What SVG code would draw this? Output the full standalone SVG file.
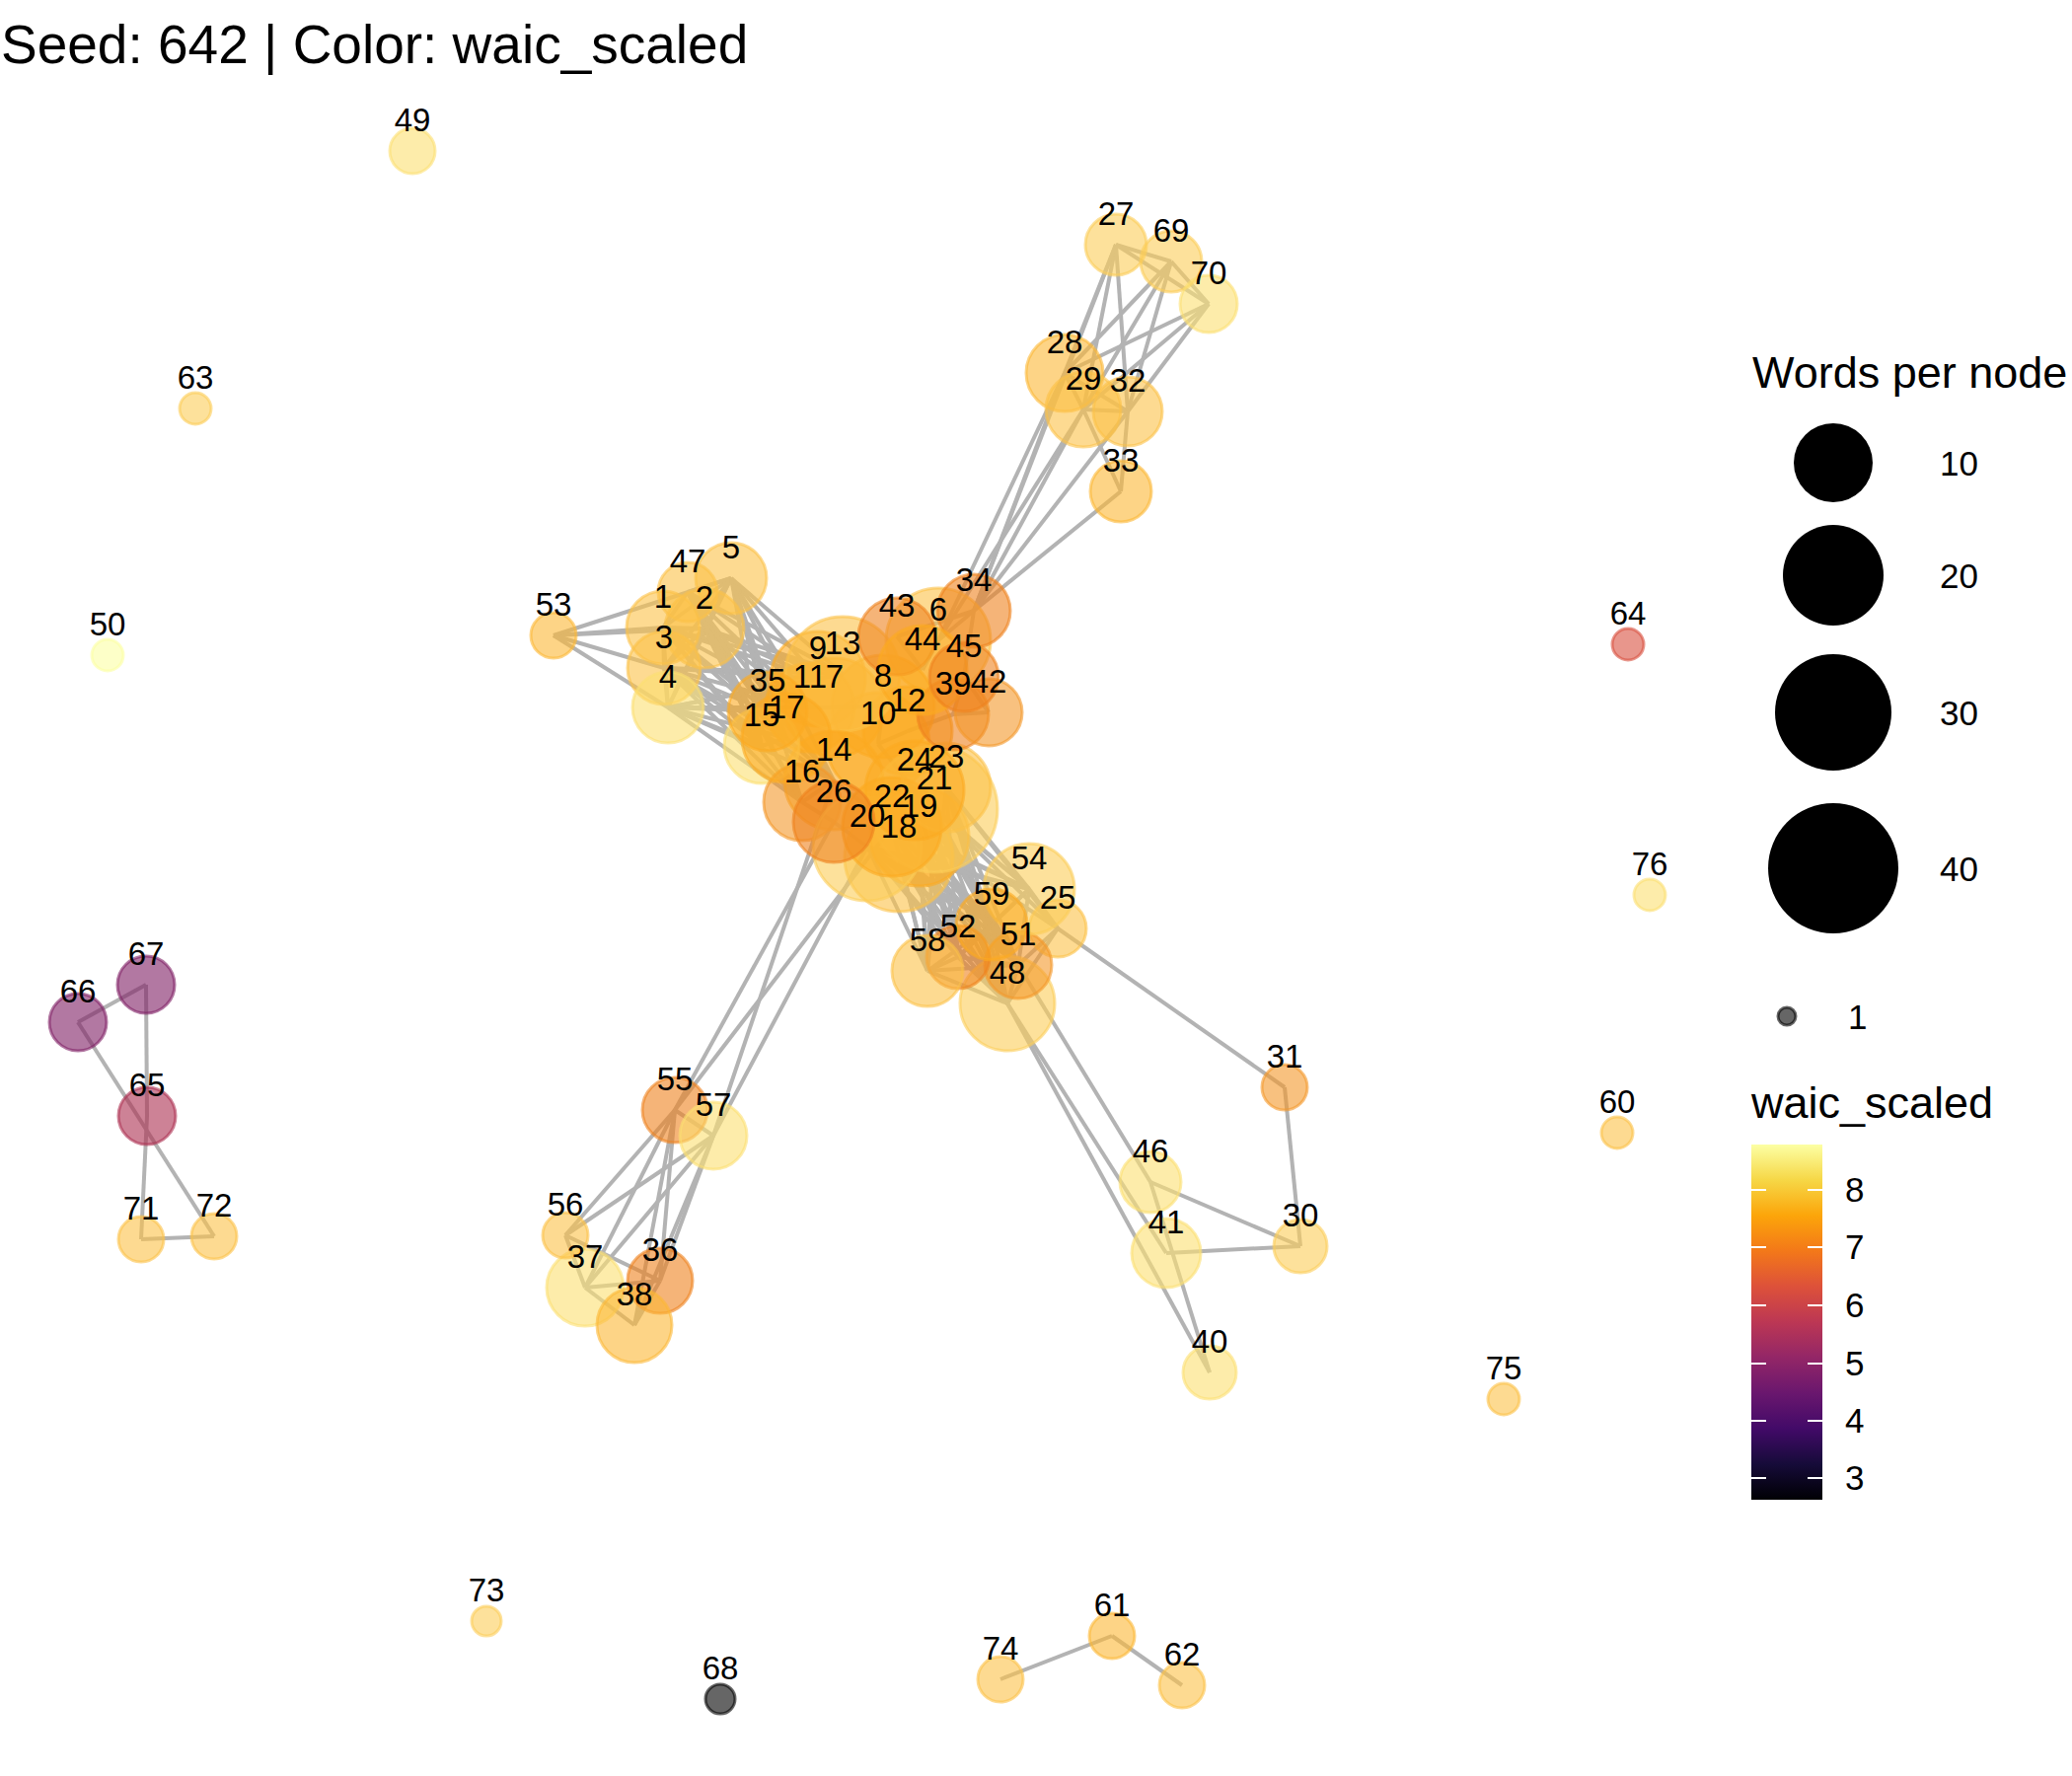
<svg xmlns="http://www.w3.org/2000/svg" width="2100" height="1800" viewBox="0 0 2100 1800">
<style>
.e{stroke:#B3B3B3;stroke-width:4;fill:none}
.node circle{fill-opacity:.6;stroke-opacity:.6;stroke-width:3}
.lb{font-family:"Liberation Sans",Arial,sans-serif;font-size:33px;text-anchor:middle;fill:#000}
.lg{font-family:"Liberation Sans",Arial,sans-serif;fill:#000}
.PY{fill:#FCDF71;stroke:#FCDF71}
.VP{fill:#FCFFA4;stroke:#FCFFA4}
.LO{fill:#FCC148;stroke:#FCC148}
.LL{fill:#FCCD58;stroke:#FCCD58}
.OR{fill:#FBAA22;stroke:#FBAA22}
.OL{fill:#FBB735;stroke:#FBB735}
.DO{fill:#EE821E;stroke:#EE821E}
.DL{fill:#F3982A;stroke:#F3982A}
.RD{fill:#D9503F;stroke:#D9503F}
.MG{fill:#AC2F50;stroke:#AC2F50}
.PU{fill:#7F1E64;stroke:#7F1E64}
.BK{fill:#000000;stroke:#000000}
</style>
<defs>
<linearGradient id="inferno" x1="0" y1="0" x2="0" y2="1">
<stop offset="0" stop-color="#FCFFA4"/>
<stop offset="0.1" stop-color="#F6D746"/>
<stop offset="0.2" stop-color="#FCA50A"/>
<stop offset="0.3" stop-color="#F37819"/>
<stop offset="0.4" stop-color="#DD513A"/>
<stop offset="0.5" stop-color="#BC3754"/>
<stop offset="0.6" stop-color="#932667"/>
<stop offset="0.7" stop-color="#6A176E"/>
<stop offset="0.8" stop-color="#420A68"/>
<stop offset="0.9" stop-color="#160B39"/>
<stop offset="1" stop-color="#000004"/>
</linearGradient>
</defs>
<rect width="2100" height="1800" fill="#FFFFFF"/>
<text class="lg" x="1" y="64" font-size="55">Seed: 642 | Color: waic_scaled</text>

<g id="edges">
<line class="e" x1="1131" y1="248" x2="1187" y2="265"/>
<line class="e" x1="1131" y1="248" x2="1225" y2="308"/>
<line class="e" x1="1187" y1="265" x2="1225" y2="308"/>
<line class="e" x1="1131" y1="248" x2="1079" y2="378"/>
<line class="e" x1="1131" y1="248" x2="1098" y2="415"/>
<line class="e" x1="1131" y1="248" x2="1143" y2="417"/>
<line class="e" x1="1187" y1="265" x2="1079" y2="378"/>
<line class="e" x1="1187" y1="265" x2="1098" y2="415"/>
<line class="e" x1="1187" y1="265" x2="1143" y2="417"/>
<line class="e" x1="1225" y1="308" x2="1079" y2="378"/>
<line class="e" x1="1225" y1="308" x2="1098" y2="415"/>
<line class="e" x1="1225" y1="308" x2="1143" y2="417"/>
<line class="e" x1="1079" y1="378" x2="1098" y2="415"/>
<line class="e" x1="1079" y1="378" x2="1143" y2="417"/>
<line class="e" x1="1098" y1="415" x2="1143" y2="417"/>
<line class="e" x1="1098" y1="415" x2="1136" y2="498"/>
<line class="e" x1="1143" y1="417" x2="1136" y2="498"/>
<line class="e" x1="987" y1="619" x2="1079" y2="378"/>
<line class="e" x1="987" y1="619" x2="1098" y2="415"/>
<line class="e" x1="987" y1="619" x2="1143" y2="417"/>
<line class="e" x1="987" y1="619" x2="1136" y2="498"/>
<line class="e" x1="987" y1="619" x2="1131" y2="248"/>
<line class="e" x1="951" y1="649" x2="1079" y2="378"/>
<line class="e" x1="951" y1="649" x2="1098" y2="415"/>
<line class="e" x1="672" y1="636" x2="714" y2="637"/>
<line class="e" x1="672" y1="636" x2="673" y2="677"/>
<line class="e" x1="714" y1="637" x2="673" y2="677"/>
<line class="e" x1="673" y1="677" x2="677" y2="717"/>
<line class="e" x1="672" y1="636" x2="677" y2="717"/>
<line class="e" x1="714" y1="637" x2="741" y2="586"/>
<line class="e" x1="697" y1="600" x2="741" y2="586"/>
<line class="e" x1="672" y1="636" x2="697" y2="600"/>
<line class="e" x1="714" y1="637" x2="697" y2="600"/>
<line class="e" x1="673" y1="677" x2="741" y2="586"/>
<line class="e" x1="677" y1="717" x2="741" y2="586"/>
<line class="e" x1="714" y1="637" x2="677" y2="717"/>
<line class="e" x1="672" y1="636" x2="741" y2="586"/>
<line class="e" x1="561" y1="644" x2="672" y2="636"/>
<line class="e" x1="561" y1="644" x2="714" y2="637"/>
<line class="e" x1="561" y1="644" x2="673" y2="677"/>
<line class="e" x1="561" y1="644" x2="677" y2="717"/>
<line class="e" x1="561" y1="644" x2="741" y2="586"/>
<line class="e" x1="672" y1="636" x2="829" y2="688"/>
<line class="e" x1="672" y1="636" x2="821" y2="717"/>
<line class="e" x1="672" y1="636" x2="778" y2="721"/>
<line class="e" x1="672" y1="636" x2="772" y2="756"/>
<line class="e" x1="672" y1="636" x2="797" y2="748"/>
<line class="e" x1="672" y1="636" x2="845" y2="791"/>
<line class="e" x1="672" y1="636" x2="813" y2="813"/>
<line class="e" x1="672" y1="636" x2="854" y2="683"/>
<line class="e" x1="714" y1="637" x2="829" y2="688"/>
<line class="e" x1="714" y1="637" x2="821" y2="717"/>
<line class="e" x1="714" y1="637" x2="778" y2="721"/>
<line class="e" x1="714" y1="637" x2="772" y2="756"/>
<line class="e" x1="714" y1="637" x2="797" y2="748"/>
<line class="e" x1="714" y1="637" x2="845" y2="791"/>
<line class="e" x1="714" y1="637" x2="813" y2="813"/>
<line class="e" x1="714" y1="637" x2="854" y2="683"/>
<line class="e" x1="673" y1="677" x2="829" y2="688"/>
<line class="e" x1="673" y1="677" x2="821" y2="717"/>
<line class="e" x1="673" y1="677" x2="778" y2="721"/>
<line class="e" x1="673" y1="677" x2="772" y2="756"/>
<line class="e" x1="673" y1="677" x2="797" y2="748"/>
<line class="e" x1="673" y1="677" x2="845" y2="791"/>
<line class="e" x1="673" y1="677" x2="813" y2="813"/>
<line class="e" x1="673" y1="677" x2="854" y2="683"/>
<line class="e" x1="677" y1="717" x2="829" y2="688"/>
<line class="e" x1="677" y1="717" x2="821" y2="717"/>
<line class="e" x1="677" y1="717" x2="778" y2="721"/>
<line class="e" x1="677" y1="717" x2="772" y2="756"/>
<line class="e" x1="677" y1="717" x2="797" y2="748"/>
<line class="e" x1="677" y1="717" x2="845" y2="791"/>
<line class="e" x1="677" y1="717" x2="813" y2="813"/>
<line class="e" x1="677" y1="717" x2="854" y2="683"/>
<line class="e" x1="741" y1="586" x2="829" y2="688"/>
<line class="e" x1="741" y1="586" x2="821" y2="717"/>
<line class="e" x1="741" y1="586" x2="778" y2="721"/>
<line class="e" x1="741" y1="586" x2="772" y2="756"/>
<line class="e" x1="741" y1="586" x2="797" y2="748"/>
<line class="e" x1="741" y1="586" x2="845" y2="791"/>
<line class="e" x1="741" y1="586" x2="813" y2="813"/>
<line class="e" x1="741" y1="586" x2="854" y2="683"/>
<line class="e" x1="697" y1="600" x2="829" y2="688"/>
<line class="e" x1="697" y1="600" x2="821" y2="717"/>
<line class="e" x1="697" y1="600" x2="778" y2="721"/>
<line class="e" x1="697" y1="600" x2="772" y2="756"/>
<line class="e" x1="697" y1="600" x2="797" y2="748"/>
<line class="e" x1="697" y1="600" x2="845" y2="791"/>
<line class="e" x1="697" y1="600" x2="813" y2="813"/>
<line class="e" x1="697" y1="600" x2="854" y2="683"/>
<line class="e" x1="829" y1="688" x2="854" y2="683"/>
<line class="e" x1="821" y1="717" x2="846" y2="717"/>
<line class="e" x1="778" y1="721" x2="797" y2="748"/>
<line class="e" x1="772" y1="756" x2="797" y2="748"/>
<line class="e" x1="845" y1="791" x2="813" y2="813"/>
<line class="e" x1="813" y1="813" x2="845" y2="833"/>
<line class="e" x1="846" y1="717" x2="895" y2="716"/>
<line class="e" x1="895" y1="716" x2="890" y2="754"/>
<line class="e" x1="890" y1="754" x2="920" y2="741"/>
<line class="e" x1="845" y1="833" x2="879" y2="858"/>
<line class="e" x1="879" y1="858" x2="911" y2="869"/>
<line class="e" x1="904" y1="838" x2="932" y2="848"/>
<line class="e" x1="947" y1="820" x2="927" y2="801"/>
<line class="e" x1="959" y1="798" x2="927" y2="801"/>
<line class="e" x1="909" y1="645" x2="935" y2="679"/>
<line class="e" x1="951" y1="649" x2="935" y2="679"/>
<line class="e" x1="951" y1="649" x2="987" y2="619"/>
<line class="e" x1="909" y1="645" x2="987" y2="619"/>
<line class="e" x1="977" y1="686" x2="966" y2="724"/>
<line class="e" x1="966" y1="724" x2="1002" y2="722"/>
<line class="e" x1="977" y1="686" x2="1002" y2="722"/>
<line class="e" x1="987" y1="619" x2="977" y2="686"/>
<line class="e" x1="920" y1="741" x2="966" y2="724"/>
<line class="e" x1="890" y1="754" x2="927" y2="801"/>
<line class="e" x1="845" y1="791" x2="904" y2="838"/>
<line class="e" x1="911" y1="869" x2="1043" y2="901"/>
<line class="e" x1="911" y1="869" x2="1005" y2="937"/>
<line class="e" x1="911" y1="869" x2="971" y2="970"/>
<line class="e" x1="911" y1="869" x2="940" y2="984"/>
<line class="e" x1="911" y1="869" x2="1032" y2="978"/>
<line class="e" x1="911" y1="869" x2="1021" y2="1017"/>
<line class="e" x1="932" y1="848" x2="1043" y2="901"/>
<line class="e" x1="932" y1="848" x2="1005" y2="937"/>
<line class="e" x1="932" y1="848" x2="971" y2="970"/>
<line class="e" x1="932" y1="848" x2="940" y2="984"/>
<line class="e" x1="932" y1="848" x2="1032" y2="978"/>
<line class="e" x1="932" y1="848" x2="1021" y2="1017"/>
<line class="e" x1="947" y1="820" x2="1043" y2="901"/>
<line class="e" x1="947" y1="820" x2="1005" y2="937"/>
<line class="e" x1="947" y1="820" x2="971" y2="970"/>
<line class="e" x1="947" y1="820" x2="940" y2="984"/>
<line class="e" x1="947" y1="820" x2="1032" y2="978"/>
<line class="e" x1="947" y1="820" x2="1021" y2="1017"/>
<line class="e" x1="904" y1="838" x2="1043" y2="901"/>
<line class="e" x1="904" y1="838" x2="1005" y2="937"/>
<line class="e" x1="904" y1="838" x2="971" y2="970"/>
<line class="e" x1="904" y1="838" x2="940" y2="984"/>
<line class="e" x1="904" y1="838" x2="1032" y2="978"/>
<line class="e" x1="904" y1="838" x2="1021" y2="1017"/>
<line class="e" x1="959" y1="798" x2="1043" y2="901"/>
<line class="e" x1="959" y1="798" x2="1005" y2="937"/>
<line class="e" x1="959" y1="798" x2="971" y2="970"/>
<line class="e" x1="959" y1="798" x2="940" y2="984"/>
<line class="e" x1="959" y1="798" x2="1032" y2="978"/>
<line class="e" x1="959" y1="798" x2="1021" y2="1017"/>
<line class="e" x1="927" y1="801" x2="1043" y2="901"/>
<line class="e" x1="927" y1="801" x2="1005" y2="937"/>
<line class="e" x1="927" y1="801" x2="971" y2="970"/>
<line class="e" x1="927" y1="801" x2="940" y2="984"/>
<line class="e" x1="927" y1="801" x2="1032" y2="978"/>
<line class="e" x1="927" y1="801" x2="1021" y2="1017"/>
<line class="e" x1="879" y1="858" x2="1043" y2="901"/>
<line class="e" x1="879" y1="858" x2="1005" y2="937"/>
<line class="e" x1="879" y1="858" x2="971" y2="970"/>
<line class="e" x1="879" y1="858" x2="940" y2="984"/>
<line class="e" x1="879" y1="858" x2="1032" y2="978"/>
<line class="e" x1="879" y1="858" x2="1021" y2="1017"/>
<line class="e" x1="947" y1="820" x2="1072" y2="941"/>
<line class="e" x1="959" y1="798" x2="1072" y2="941"/>
<line class="e" x1="932" y1="848" x2="1072" y2="941"/>
<line class="e" x1="1043" y1="901" x2="1005" y2="937"/>
<line class="e" x1="1043" y1="901" x2="1072" y2="941"/>
<line class="e" x1="1005" y1="937" x2="971" y2="970"/>
<line class="e" x1="971" y1="970" x2="940" y2="984"/>
<line class="e" x1="1032" y1="978" x2="1021" y2="1017"/>
<line class="e" x1="971" y1="970" x2="1032" y2="978"/>
<line class="e" x1="1005" y1="937" x2="1032" y2="978"/>
<line class="e" x1="1072" y1="941" x2="1032" y2="978"/>
<line class="e" x1="940" y1="984" x2="1021" y2="1017"/>
<line class="e" x1="971" y1="970" x2="1021" y2="1017"/>
<line class="e" x1="1043" y1="901" x2="1032" y2="978"/>
<line class="e" x1="1072" y1="941" x2="1021" y2="1017"/>
<line class="e" x1="1005" y1="937" x2="1021" y2="1017"/>
<line class="e" x1="940" y1="984" x2="1032" y2="978"/>
<line class="e" x1="1005" y1="937" x2="940" y2="984"/>
<line class="e" x1="1043" y1="901" x2="971" y2="970"/>
<line class="e" x1="1072" y1="941" x2="1302" y2="1102"/>
<line class="e" x1="1302" y1="1102" x2="1318" y2="1263"/>
<line class="e" x1="1166" y1="1198" x2="1318" y2="1263"/>
<line class="e" x1="1182" y1="1270" x2="1318" y2="1263"/>
<line class="e" x1="1032" y1="978" x2="1166" y2="1198"/>
<line class="e" x1="1021" y1="1017" x2="1182" y2="1270"/>
<line class="e" x1="1021" y1="1017" x2="1226" y2="1391"/>
<line class="e" x1="1166" y1="1198" x2="1226" y2="1391"/>
<line class="e" x1="684" y1="1125" x2="573" y2="1252"/>
<line class="e" x1="723" y1="1151" x2="573" y2="1252"/>
<line class="e" x1="684" y1="1125" x2="593" y2="1305"/>
<line class="e" x1="723" y1="1151" x2="593" y2="1305"/>
<line class="e" x1="684" y1="1125" x2="669" y2="1298"/>
<line class="e" x1="684" y1="1125" x2="643" y2="1343"/>
<line class="e" x1="723" y1="1151" x2="669" y2="1298"/>
<line class="e" x1="723" y1="1151" x2="643" y2="1343"/>
<line class="e" x1="573" y1="1252" x2="593" y2="1305"/>
<line class="e" x1="573" y1="1252" x2="669" y2="1298"/>
<line class="e" x1="593" y1="1305" x2="643" y2="1343"/>
<line class="e" x1="593" y1="1305" x2="669" y2="1298"/>
<line class="e" x1="669" y1="1298" x2="643" y2="1343"/>
<line class="e" x1="684" y1="1125" x2="723" y2="1151"/>
<line class="e" x1="845" y1="833" x2="684" y2="1125"/>
<line class="e" x1="904" y1="838" x2="684" y2="1125"/>
<line class="e" x1="845" y1="791" x2="723" y2="1151"/>
<line class="e" x1="879" y1="858" x2="723" y2="1151"/>
<line class="e" x1="79" y1="1036" x2="148" y2="998"/>
<line class="e" x1="148" y1="998" x2="149" y2="1131"/>
<line class="e" x1="149" y1="1131" x2="143" y2="1256"/>
<line class="e" x1="79" y1="1036" x2="217" y2="1253"/>
<line class="e" x1="143" y1="1256" x2="217" y2="1253"/>
<line class="e" x1="1014" y1="1702" x2="1127" y2="1658"/>
<line class="e" x1="1127" y1="1658" x2="1198" y2="1708"/>
</g>

<g id="nodes">
<g id="node-1" class="node"><circle class="LO" cx="672" cy="636" r="37"/></g>
<g id="node-2" class="node"><circle class="LO" cx="714" cy="637" r="40"/></g>
<g id="node-3" class="node"><circle class="LO" cx="673" cy="677" r="37"/></g>
<g id="node-4" class="node"><circle class="PY" cx="677" cy="717" r="36"/></g>
<g id="node-5" class="node"><circle class="LO" cx="741" cy="586" r="36"/></g>
<g id="node-6" class="node"><circle class="LO" cx="951" cy="649" r="53"/></g>
<g id="node-7" class="node"><circle class="OR" cx="846" cy="717" r="50"/></g>
<g id="node-8" class="node"><circle class="OR" cx="895" cy="716" r="52"/></g>
<g id="node-9" class="node"><circle class="OR" cx="829" cy="688" r="48"/></g>
<g id="node-10" class="node"><circle class="OR" cx="890" cy="754" r="52"/></g>
<g id="node-11" class="node"><circle class="OR" cx="821" cy="717" r="45"/></g>
<g id="node-12" class="node"><circle class="OR" cx="920" cy="741" r="45"/></g>
<g id="node-13" class="node"><circle class="LO" cx="854" cy="683" r="58"/></g>
<g id="node-14" class="node"><circle class="OR" cx="845" cy="791" r="50"/></g>
<g id="node-15" class="node"><circle class="PY" cx="772" cy="756" r="38"/></g>
<g id="node-16" class="node"><circle class="DL" cx="813" cy="813" r="39"/></g>
<g id="node-17" class="node"><circle class="OR" cx="797" cy="748" r="45"/></g>
<g id="node-18" class="node"><circle class="LO" cx="911" cy="869" r="55"/></g>
<g id="node-19" class="node"><circle class="OR" cx="932" cy="848" r="50"/></g>
<g id="node-20" class="node"><circle class="LL" cx="879" cy="858" r="55"/></g>
<g id="node-21" class="node"><circle class="LL" cx="947" cy="820" r="64"/></g>
<g id="node-22" class="node"><circle class="OR" cx="904" cy="838" r="50"/></g>
<g id="node-23" class="node"><circle class="LO" cx="959" cy="798" r="45"/></g>
<g id="node-24" class="node"><circle class="OR" cx="927" cy="801" r="50"/></g>
<g id="node-25" class="node"><circle class="LO" cx="1072" cy="941" r="29"/></g>
<g id="node-26" class="node"><circle class="DO" cx="845" cy="833" r="41"/></g>
<g id="node-27" class="node"><circle class="LL" cx="1131" cy="248" r="31"/></g>
<g id="node-28" class="node"><circle class="OL" cx="1079" cy="378" r="39"/></g>
<g id="node-29" class="node"><circle class="LO" cx="1098" cy="415" r="38"/></g>
<g id="node-30" class="node"><circle class="LL" cx="1318" cy="1263" r="27"/></g>
<g id="node-31" class="node"><circle class="DL" cx="1302" cy="1102" r="23"/></g>
<g id="node-32" class="node"><circle class="LO" cx="1143" cy="417" r="35"/></g>
<g id="node-33" class="node"><circle class="OL" cx="1136" cy="498" r="31"/></g>
<g id="node-34" class="node"><circle class="DO" cx="987" cy="619" r="37"/></g>
<g id="node-35" class="node"><circle class="OR" cx="778" cy="721" r="40"/></g>
<g id="node-36" class="node"><circle class="DO" cx="669" cy="1298" r="33"/></g>
<g id="node-37" class="node"><circle class="PY" cx="593" cy="1305" r="39"/></g>
<g id="node-38" class="node"><circle class="OL" cx="643" cy="1343" r="38"/></g>
<g id="node-39" class="node"><circle class="DO" cx="966" cy="724" r="36"/></g>
<g id="node-40" class="node"><circle class="PY" cx="1226" cy="1391" r="27"/></g>
<g id="node-41" class="node"><circle class="PY" cx="1182" cy="1270" r="35"/></g>
<g id="node-42" class="node"><circle class="DL" cx="1002" cy="722" r="34"/></g>
<g id="node-43" class="node"><circle class="DO" cx="909" cy="645" r="39"/></g>
<g id="node-44" class="node"><circle class="OR" cx="935" cy="679" r="45"/></g>
<g id="node-45" class="node"><circle class="DO" cx="977" cy="686" r="35"/></g>
<g id="node-46" class="node"><circle class="PY" cx="1166" cy="1198" r="31"/></g>
<g id="node-47" class="node"><circle class="LO" cx="697" cy="600" r="30"/></g>
<g id="node-48" class="node"><circle class="LL" cx="1021" cy="1017" r="48"/></g>
<g id="node-49" class="node"><circle class="PY" cx="418" cy="153" r="23"/></g>
<g id="node-50" class="node"><circle class="VP" cx="109" cy="664" r="16"/></g>
<g id="node-51" class="node"><circle class="DL" cx="1032" cy="978" r="34"/></g>
<g id="node-52" class="node"><circle class="DO" cx="971" cy="970" r="32"/></g>
<g id="node-53" class="node"><circle class="OL" cx="561" cy="644" r="23"/></g>
<g id="node-54" class="node"><circle class="LL" cx="1043" cy="901" r="46"/></g>
<g id="node-55" class="node"><circle class="DO" cx="684" cy="1125" r="33"/></g>
<g id="node-56" class="node"><circle class="LO" cx="573" cy="1252" r="23"/></g>
<g id="node-57" class="node"><circle class="PY" cx="723" cy="1151" r="34"/></g>
<g id="node-58" class="node"><circle class="LO" cx="940" cy="984" r="36"/></g>
<g id="node-59" class="node"><circle class="OR" cx="1005" cy="937" r="36"/></g>
<g id="node-60" class="node"><circle class="LO" cx="1639" cy="1148" r="16"/></g>
<g id="node-61" class="node"><circle class="OL" cx="1127" cy="1658" r="23"/></g>
<g id="node-62" class="node"><circle class="LO" cx="1198" cy="1708" r="23"/></g>
<g id="node-63" class="node"><circle class="LL" cx="198" cy="414" r="16"/></g>
<g id="node-64" class="node"><circle class="RD" cx="1650" cy="653" r="16"/></g>
<g id="node-65" class="node"><circle class="MG" cx="149" cy="1131" r="29"/></g>
<g id="node-66" class="node"><circle class="PU" cx="79" cy="1036" r="29"/></g>
<g id="node-67" class="node"><circle class="PU" cx="148" cy="998" r="29"/></g>
<g id="node-68" class="node"><circle class="BK" cx="730" cy="1722" r="15"/></g>
<g id="node-69" class="node"><circle class="LL" cx="1187" cy="265" r="31"/></g>
<g id="node-70" class="node"><circle class="PY" cx="1225" cy="308" r="29"/></g>
<g id="node-71" class="node"><circle class="LO" cx="143" cy="1256" r="23"/></g>
<g id="node-72" class="node"><circle class="LO" cx="217" cy="1253" r="23"/></g>
<g id="node-73" class="node"><circle class="LL" cx="493" cy="1643" r="15"/></g>
<g id="node-74" class="node"><circle class="LO" cx="1014" cy="1702" r="23"/></g>
<g id="node-75" class="node"><circle class="LO" cx="1524" cy="1418" r="16"/></g>
<g id="node-76" class="node"><circle class="PY" cx="1672" cy="907" r="16"/></g>
</g>

<g id="labels">
<text class="lb" x="672" y="616">1</text>
<text class="lb" x="714" y="617">2</text>
<text class="lb" x="673" y="657">3</text>
<text class="lb" x="677" y="697">4</text>
<text class="lb" x="741" y="566">5</text>
<text class="lb" x="951" y="629">6</text>
<text class="lb" x="846" y="697">7</text>
<text class="lb" x="895" y="696">8</text>
<text class="lb" x="829" y="668">9</text>
<text class="lb" x="890" y="734">10</text>
<text class="lb" x="821" y="697">11</text>
<text class="lb" x="920" y="721">12</text>
<text class="lb" x="854" y="663">13</text>
<text class="lb" x="845" y="771">14</text>
<text class="lb" x="772" y="736">15</text>
<text class="lb" x="813" y="793">16</text>
<text class="lb" x="797" y="728">17</text>
<text class="lb" x="911" y="849">18</text>
<text class="lb" x="932" y="828">19</text>
<text class="lb" x="879" y="838">20</text>
<text class="lb" x="947" y="800">21</text>
<text class="lb" x="904" y="818">22</text>
<text class="lb" x="959" y="778">23</text>
<text class="lb" x="927" y="781">24</text>
<text class="lb" x="1072" y="921">25</text>
<text class="lb" x="845" y="813">26</text>
<text class="lb" x="1131" y="228">27</text>
<text class="lb" x="1079" y="358">28</text>
<text class="lb" x="1098" y="395">29</text>
<text class="lb" x="1318" y="1243">30</text>
<text class="lb" x="1302" y="1082">31</text>
<text class="lb" x="1143" y="397">32</text>
<text class="lb" x="1136" y="478">33</text>
<text class="lb" x="987" y="599">34</text>
<text class="lb" x="778" y="701">35</text>
<text class="lb" x="669" y="1278">36</text>
<text class="lb" x="593" y="1285">37</text>
<text class="lb" x="643" y="1323">38</text>
<text class="lb" x="966" y="704">39</text>
<text class="lb" x="1226" y="1371">40</text>
<text class="lb" x="1182" y="1250">41</text>
<text class="lb" x="1002" y="702">42</text>
<text class="lb" x="909" y="625">43</text>
<text class="lb" x="935" y="659">44</text>
<text class="lb" x="977" y="666">45</text>
<text class="lb" x="1166" y="1178">46</text>
<text class="lb" x="697" y="580">47</text>
<text class="lb" x="1021" y="997">48</text>
<text class="lb" x="418" y="133">49</text>
<text class="lb" x="109" y="644">50</text>
<text class="lb" x="1032" y="958">51</text>
<text class="lb" x="971" y="950">52</text>
<text class="lb" x="561" y="624">53</text>
<text class="lb" x="1043" y="881">54</text>
<text class="lb" x="684" y="1105">55</text>
<text class="lb" x="573" y="1232">56</text>
<text class="lb" x="723" y="1131">57</text>
<text class="lb" x="940" y="964">58</text>
<text class="lb" x="1005" y="917">59</text>
<text class="lb" x="1639" y="1128">60</text>
<text class="lb" x="1127" y="1638">61</text>
<text class="lb" x="1198" y="1688">62</text>
<text class="lb" x="198" y="394">63</text>
<text class="lb" x="1650" y="633">64</text>
<text class="lb" x="149" y="1111">65</text>
<text class="lb" x="79" y="1016">66</text>
<text class="lb" x="148" y="978">67</text>
<text class="lb" x="730" y="1702">68</text>
<text class="lb" x="1187" y="245">69</text>
<text class="lb" x="1225" y="288">70</text>
<text class="lb" x="143" y="1236">71</text>
<text class="lb" x="217" y="1233">72</text>
<text class="lb" x="493" y="1623">73</text>
<text class="lb" x="1014" y="1682">74</text>
<text class="lb" x="1524" y="1398">75</text>
<text class="lb" x="1672" y="887">76</text>
</g>

<g id="legend-size">
<text class="lg" x="1776" y="393" font-size="45">Words per node</text>
<circle cx="1858" cy="469" r="40" fill="#000"/>
<circle cx="1858" cy="583" r="51" fill="#000"/>
<circle cx="1858" cy="722" r="59" fill="#000"/>
<circle cx="1858" cy="880" r="66" fill="#000"/>
<circle cx="1811" cy="1030" r="9" fill="#000" fill-opacity=".6" stroke="#000" stroke-opacity=".6" stroke-width="3"/>
<text class="lg" x="1966" y="482" font-size="35">10</text>
<text class="lg" x="1966" y="596" font-size="35">20</text>
<text class="lg" x="1966" y="735" font-size="35">30</text>
<text class="lg" x="1966" y="893" font-size="35">40</text>
<text class="lg" x="1873" y="1043" font-size="35">1</text>
</g>

<g id="legend-color">
<text class="lg" x="1775" y="1133" font-size="45">waic_scaled</text>
<rect x="1775" y="1160" width="72" height="360" fill="url(#inferno)"/>
<g stroke="#FFFFFF" stroke-width="2">
<line x1="1775" y1="1206" x2="1790" y2="1206"/><line x1="1832" y1="1206" x2="1847" y2="1206"/>
<line x1="1775" y1="1264" x2="1790" y2="1264"/><line x1="1832" y1="1264" x2="1847" y2="1264"/>
<line x1="1775" y1="1323" x2="1790" y2="1323"/><line x1="1832" y1="1323" x2="1847" y2="1323"/>
<line x1="1775" y1="1382" x2="1790" y2="1382"/><line x1="1832" y1="1382" x2="1847" y2="1382"/>
<line x1="1775" y1="1440" x2="1790" y2="1440"/><line x1="1832" y1="1440" x2="1847" y2="1440"/>
<line x1="1775" y1="1498" x2="1790" y2="1498"/><line x1="1832" y1="1498" x2="1847" y2="1498"/>
</g>
<text class="lg" x="1870" y="1218" font-size="35">8</text>
<text class="lg" x="1870" y="1276" font-size="35">7</text>
<text class="lg" x="1870" y="1335" font-size="35">6</text>
<text class="lg" x="1870" y="1394" font-size="35">5</text>
<text class="lg" x="1870" y="1452" font-size="35">4</text>
<text class="lg" x="1870" y="1510" font-size="35">3</text>
</g>
</svg>
